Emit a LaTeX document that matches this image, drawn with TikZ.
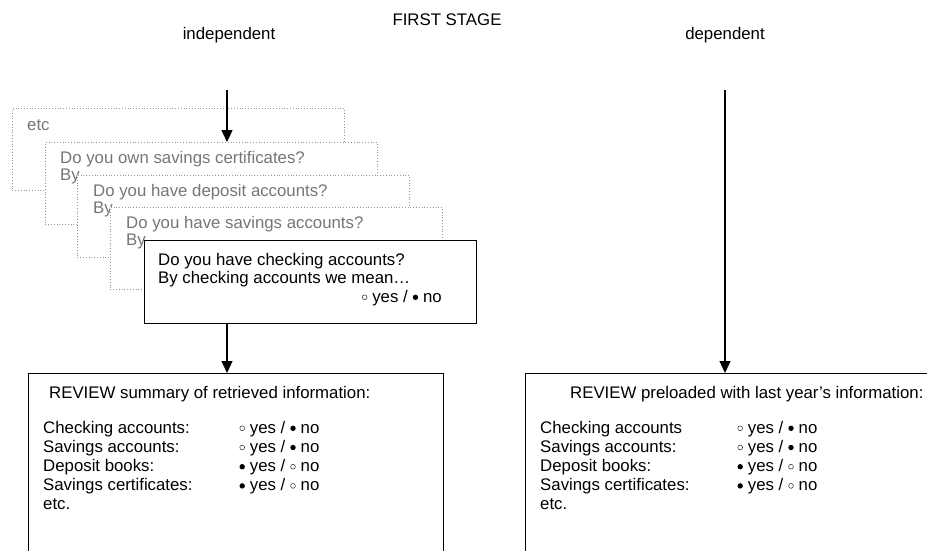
\documentclass[tikz,border=0pt]{standalone}
\usepackage{fontspec}
\setmainfont{Liberation Sans}
\usetikzlibrary{arrows.meta}
\definecolor{qgray}{RGB}{118,118,118}
\definecolor{bgray}{RGB}{150,150,150}
\newcommand\myfs{\fontsize{16.8}{19.2}\selectfont}
\newcommand\wbul{\tikz[baseline=0pt,x=1pt,y=1pt]{\useasboundingbox (0,0) rectangle (6,1); \draw[black!85,solid,line width=0.5pt] (3,4.7) circle[radius=2.4];}}
\newcommand\bbul{\tikz[baseline=0pt,x=1pt,y=1pt]{\useasboundingbox (0,0) rectangle (6,1); \fill[black] (3,4.7) circle[radius=2.7];}}
\newcommand\yesno{\wbul\ yes / \bbul\ no}
\newcommand\noyes{\bbul\ yes / \wbul\ no}
\begin{document}
\begin{tikzpicture}[x=1pt,y=-1pt,
  every node/.style={font=\myfs},
  card/.style={draw=bgray, dotted, fill=white, line width=0.8pt, minimum width=332pt, minimum height=82pt, anchor=north west, inner sep=0pt},
  qcard/.style={draw=black, fill=white, line width=1.3pt, minimum width=332pt, minimum height=83pt, anchor=north west, inner sep=0pt},
  review/.style={draw=black, line width=1.3pt, anchor=north west, inner sep=0pt, minimum height=260pt},
  gtxt/.style={anchor=base west, inner sep=0pt, text=qgray},
  btxt/.style={anchor=base west, inner sep=0pt, text=black},
  head/.style={anchor=base, inner sep=0pt},
  arr/.style={line width=1.3pt, -{Triangle[width=11pt,length=12pt]}}
]
\useasboundingbox (0,0) rectangle (927,550);
\clip (0,0) rectangle (927,550);

% headings
\node[head] (stage) at (447,25) {FIRST STAGE};
\node[head] (indep) at (229,39) {independent};
\node[head] (dep) at (725,39) {dependent};

% stacked question cards
\node[card] (etc) at (12,108) {};
\node[gtxt] (etct) at (27,130) {etc};

\node[card] (cert) at (45,142) {};
\node[gtxt] (cert1) at (60,163) {Do you own savings certificates?};
\node[gtxt] (cert2) at (60,180) {By};

\node[card] (depo) at (77,175) {};
\node[gtxt] (depo1) at (93,196) {Do you have deposit accounts?};
\node[gtxt] (depo2) at (93,213) {By};

\node[card] (sav) at (110,207) {};
\node[gtxt] (sav1) at (126,228) {Do you have savings accounts?};
\node[gtxt] (sav2) at (126,245) {By};

\node[qcard] (chk) at (144,240) {};
\node[btxt] (chk1) at (158,265) {Do you have checking accounts?};
\node[btxt] (chk2) at (158,283.5) {By checking accounts we mean\ldots};
\node[anchor=base east, inner sep=0pt] (chk3) at (442,302) {\yesno};

% review boxes
\node[review, minimum width=415pt] (revL) at (28,373) {};
\node[btxt] (revLt) at (49,398) {REVIEW summary of retrieved information:};
\node[btxt] (revLtab) at (43,433) {\begin{tabular}[t]{@{}p{196pt}@{}l@{}}
Checking accounts: & \yesno\\
Savings accounts: & \yesno\\
Deposit books: & \noyes\\
Savings certificates: & \noyes\\
etc. &
\end{tabular}};

\node[review, minimum width=450pt] (revR) at (525,373) {};
\node[btxt] (revRt) at (570,398) {REVIEW preloaded with last year's information:};
\node[btxt] (revRtab) at (540,433) {\begin{tabular}[t]{@{}p{197pt}@{}l@{}}
Checking accounts & \yesno\\
Savings accounts: & \yesno\\
Deposit books: & \noyes\\
Savings certificates: & \noyes\\
etc. &
\end{tabular}};

% arrows
\coordinate (topL) at (227,90);
\coordinate (topR) at (725,90);
\draw[arr] (topL) -- (topL |- cert.north);
\draw[arr] (chk.south -| topL) -- (revL.north -| topL);
\draw[arr] (topR) -- (topR |- revR.north);
\end{tikzpicture}
\end{document}
